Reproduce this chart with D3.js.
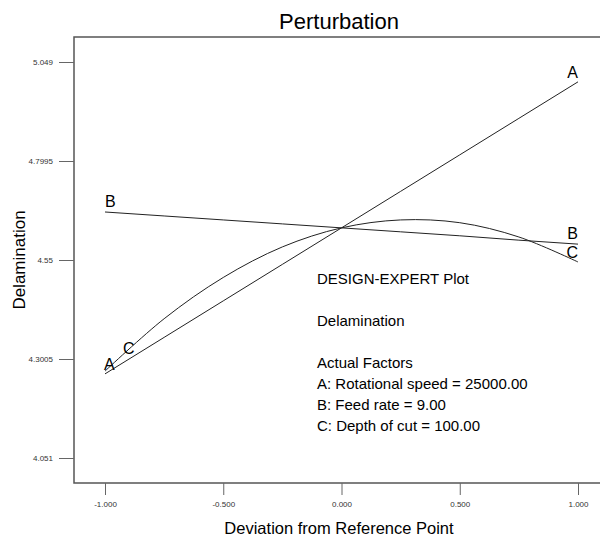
<!DOCTYPE html>
<html>
<head>
<meta charset="utf-8">
<script src="https://cdn.jsdelivr.net/npm/d3@7"></script>
<style>
  body { margin: 0; background: #fff; }
  text { font-family: "Liberation Sans", Arial, sans-serif; }
</style>
</head>
<body>
<div id="graph"></div>
<script>
// deviation from reference point (coded units)
var devX = [-1, -0.75, -0.5, -0.25, 0, 0.25, 0.5, 0.75, 1];
// A: Rotational speed (linear)
var seriesA = [4.263, 4.355, 4.447, 4.539, 4.631, 4.723, 4.815, 4.907, 4.999];
// B: Feed rate (linear)
var seriesB = [4.671, 4.661, 4.651, 4.641, 4.631, 4.621, 4.611, 4.600, 4.590];
// C: Depth of cut (curved)
var seriesC = [4.270, 4.402, 4.506, 4.583, 4.631, 4.651, 4.644, 4.608, 4.545];

var xTicks = [-1, -0.5, 0, 0.5, 1];
var xTickLabels = ["-1.000", "-0.500", "0.000", "0.500", "1.000"];
var yTicks = [4.051, 4.3005, 4.55, 4.7995, 5.049];
var yTickLabels = ["4.051", "4.3005", "4.55", "4.7995", "5.049"];

var infoLines = ["DESIGN-EXPERT Plot", "", "Delamination", "", "Actual Factors",
    "A: Rotational speed = 25000.00", "B: Feed rate = 9.00", "C: Depth of cut = 100.00"];

function init(){

    var width = 600, height = 540;
    var frame = {left: 74, top: 37, bottom: 483};

    var svg = d3.select('#graph')
      .append('svg')
        .attr("width", width)
        .attr("height", height);

    var x = d3.scaleLinear()
        .domain([-1, 1])
        .range([105, 578]);

    var y = d3.scaleLinear()
        .domain([4.051, 5.049])
        .range([458, 62]);

    // frame (right side runs off the picture)
    svg.append("path")
        .attr("d", "M" + (width + 2) + "," + frame.top + "H" + frame.left + "V" + frame.bottom + "H" + (width + 2))
        .attr("fill", "none")
        .attr("stroke", "#555")
        .attr("stroke-width", 1.5);

    // X axis ticks
    var xAxis = svg.append("g")
        .attr("transform", "translate(0," + frame.bottom + ")")
        .call(d3.axisBottom(x).tickValues(xTicks).tickSize(12).tickPadding(6)
            .tickFormat(function(d, i){ return xTickLabels[i]; }));
    xAxis.select(".domain").remove();
    xAxis.selectAll("line").attr("stroke", "#666");
    xAxis.selectAll("text").attr("font-size", 8).attr("fill", "#333")
        .attr("font-family", "'Liberation Sans', Arial, sans-serif");

    // Y axis ticks
    var yAxis = svg.append("g")
        .attr("transform", "translate(" + frame.left + ",0)")
        .call(d3.axisLeft(y).tickValues(yTicks).tickSize(15).tickPadding(6)
            .tickFormat(function(d, i){ return yTickLabels[i]; }));
    yAxis.select(".domain").remove();
    yAxis.selectAll("line").attr("stroke", "#666");
    yAxis.selectAll("text").attr("font-size", 8).attr("fill", "#333")
        .attr("font-family", "'Liberation Sans', Arial, sans-serif");

    var line = d3.line()
        .x(function(d, i) { return x(devX[i]) })
        .y(function(d) { return y(d) });

    [seriesA, seriesB].forEach(function(s){
        svg.append("path")
            .datum(s)
            .attr("fill", "none")
            .attr("stroke", "#222")
            .attr("stroke-width", 1)
            .attr("d", line);
    });

    svg.append("path")
        .datum(seriesC)
        .attr("fill", "none")
        .attr("stroke", "#222")
        .attr("stroke-width", 1)
        .attr("d", line.curve(d3.curveCatmullRom));

    // factor letters at the line ends
    var n = devX.length - 1;
    var labels = [
        {t: "A", x: x(devX[0]) - 1, y: y(seriesA[0]) - 4, a: "start"},
        {t: "C", x: x(devX[0]) + 18, y: y(seriesC[0]) - 17, a: "start"},
        {t: "B", x: x(devX[0]), y: y(seriesB[0]) - 5, a: "start"},
        {t: "A", x: x(devX[n]), y: y(seriesA[n]) - 4, a: "end"},
        {t: "B", x: x(devX[n]), y: y(seriesB[n]) - 5, a: "end"},
        {t: "C", x: x(devX[n]), y: y(seriesC[n]) - 4, a: "end"}
    ];
    svg.selectAll(".fac-label")
        .data(labels)
        .enter().append("text")
        .attr("class", "fac-label")
        .attr("x", function(d){ return d.x })
        .attr("y", function(d){ return d.y })
        .attr("text-anchor", function(d){ return d.a })
        .attr("font-size", 16)
        .text(function(d){ return d.t });

    // info block
    svg.selectAll(".info")
        .data(infoLines)
        .enter().append("text")
        .attr("class", "info")
        .attr("x", 317)
        .attr("y", function(d, i){ return 284 + i * 21 })
        .attr("font-size", 15)
        .text(function(d){ return d });

    // title
    svg.append("text")
        .attr("x", 339)
        .attr("y", 29)
        .attr("text-anchor", "middle")
        .attr("font-size", 22)
        .text("Perturbation");

    // X axis name
    svg.append("text")
        .attr("x", 339)
        .attr("y", 534)
        .attr("text-anchor", "middle")
        .attr("font-size", 16.5)
        .text("Deviation from Reference Point");

    // Y axis name
    svg.append("text")
        .attr("transform", "translate(25,260) rotate(-90)")
        .attr("text-anchor", "middle")
        .attr("font-size", 17)
        .text("Delamination");
}

init();
</script>
</body>
</html>
